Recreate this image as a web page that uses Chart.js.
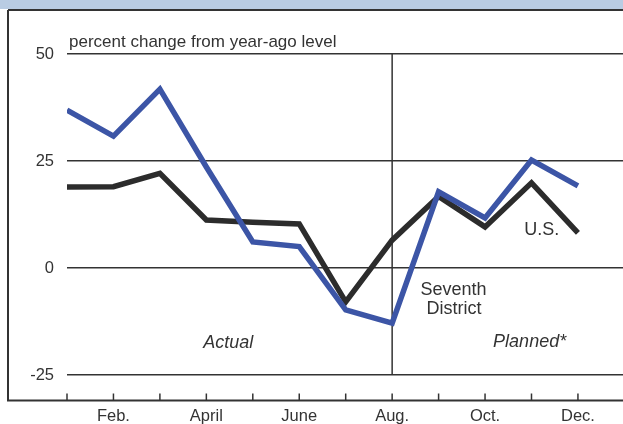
<!DOCTYPE html>
<html>
<head>
<meta charset="utf-8">
<script src="https://cdn.jsdelivr.net/npm/chart.js@4"></script>
<style>
    html, body { margin: 0; padding: 0; background: #fff; }
    #wrap { width: 623px; height: 424px; }
</style>
</head>
<body>
<div id="wrap"><canvas id="spendChart" width="623" height="424"></canvas></div>
<script>
// months 1..12, values in percent change from year-ago level
const months = [1, 2, 3, 4, 5, 6, 7, 8, 9, 10, 11, 12];
const monthLabels = ['', 'Feb.', '', 'April', '', 'June', '', 'Aug.', '', 'Oct.', '', 'Dec.'];
const seventhDistrict = [36.9, 30.8, 41.8, 23.6, 6.1, 5.0, -9.8, -12.9, 17.8, 11.7, 25.2, 19.2];
const usValues = [18.9, 19.0, 22.1, 11.2, 10.7, 10.3, -7.9, 6.5, 16.7, 9.6, 19.9, 8.2];
const yTicks = [-25, 0, 25, 50];

const FONT = '"Liberation Sans", Arial, Helvetica, sans-serif';
const INK = '#333333';

/**
 * Frame, header band, Aug. divider, tick marks and text notes
 */
const decorPlugin = {
    id: 'decor',
    beforeDatasetsDraw(chart) {
        const {ctx, chartArea, scales: {x, y}} = chart;
        ctx.save();
        // Aug. divider between actual and planned
        ctx.strokeStyle = INK;
        ctx.lineWidth = 1.5;
        const xa = x.getPixelForValue(8);
        ctx.beginPath();
        ctx.moveTo(xa, chartArea.top);
        ctx.lineTo(xa, y.getPixelForValue(-25));
        ctx.stroke();
        ctx.restore();
    },
    afterDraw(chart) {
        const {ctx, chartArea, scales: {x, y}, width} = chart;
        ctx.save();
        // header band
        ctx.fillStyle = '#b9cce3';
        ctx.fillRect(0, 0, width, 9);
        ctx.strokeStyle = INK;
        ctx.lineWidth = 2;
        ctx.beginPath();
        ctx.moveTo(8, 10);
        ctx.lineTo(width, 10);
        ctx.moveTo(8, 10);
        ctx.lineTo(8, chartArea.bottom);
        ctx.lineTo(width, chartArea.bottom);
        ctx.stroke();

        // month tick marks pointing up from the baseline
        ctx.lineWidth = 1.5;
        months.forEach(m => {
            const px = x.getPixelForValue(m);
            ctx.beginPath();
            ctx.moveTo(px, chartArea.bottom);
            ctx.lineTo(px, chartArea.bottom - 7);
            ctx.stroke();
        });

        // texts
        ctx.fillStyle = INK;
        ctx.textBaseline = 'middle';
        ctx.font = '17px ' + FONT;
        ctx.textAlign = 'left';
        ctx.fillText('percent change from year-ago level', chartArea.left + 2, chartArea.top - 12);

        ctx.font = '18px ' + FONT;
        ctx.textAlign = 'center';
        ctx.fillText('Seventh', x.getPixelForValue(9.32), y.getPixelForValue(-5.1));
        ctx.fillText('District', x.getPixelForValue(9.33), y.getPixelForValue(-9.5));
        ctx.fillText('U.S.', x.getPixelForValue(11.22), y.getPixelForValue(8.9));

        ctx.font = 'italic 18px ' + FONT;
        ctx.fillText('Actual', x.getPixelForValue(4.47), y.getPixelForValue(-17.5));
        ctx.fillText('Planned*', x.getPixelForValue(10.96), y.getPixelForValue(-17.4));
        ctx.restore();
    }
};

const ctx = document.getElementById('spendChart');
new Chart(ctx, {
    type: 'line',
    data: {
        datasets: [{
            label: 'Seventh District',
            data: months.map((m, i) => ({x: m, y: seventhDistrict[i]})),
            borderColor: '#3c55a6',
            borderWidth: 5.5,
            borderJoinStyle: 'miter',
            pointRadius: 0,
            tension: 0
        }, {
            label: 'U.S.',
            data: months.map((m, i) => ({x: m, y: usValues[i]})),
            borderColor: '#2c2c2c',
            borderWidth: 5.5,
            borderJoinStyle: 'miter',
            pointRadius: 0,
            tension: 0
        }]
    },
    options: {
        responsive: false,
        animation: false,
        layout: {padding: {top: 54, right: 0, left: 0, bottom: 0}},
        plugins: {
            legend: {display: false},
            tooltip: {enabled: false}
        },
        scales: {
            x: {
                type: 'linear',
                min: 1,
                max: 12.97,
                afterBuildTicks: scale => { scale.ticks = months.map(m => ({value: m})); },
                afterFit: scale => { scale.height = 23.5; },
                grid: {display: false, drawTicks: false},
                border: {display: false},
                ticks: {
                    padding: 6,
                    autoSkip: false,
                    maxRotation: 0,
                    color: INK,
                    font: {family: FONT, size: 16.5},
                    callback: function(value) {
                        return monthLabels[value - 1] || '';
                    }
                }
            },
            y: {
                min: -30.96,
                max: 50,
                afterBuildTicks: scale => { scale.ticks = yTicks.map(v => ({value: v})); },
                afterFit: scale => { scale.width = 67; },
                grid: {color: INK, lineWidth: 1.5, drawTicks: false},
                border: {display: false},
                ticks: {
                    padding: 13,
                    color: INK,
                    font: {family: FONT, size: 16.5}
                }
            }
        }
    },
    plugins: [decorPlugin]
});
</script>
</body>
</html>
